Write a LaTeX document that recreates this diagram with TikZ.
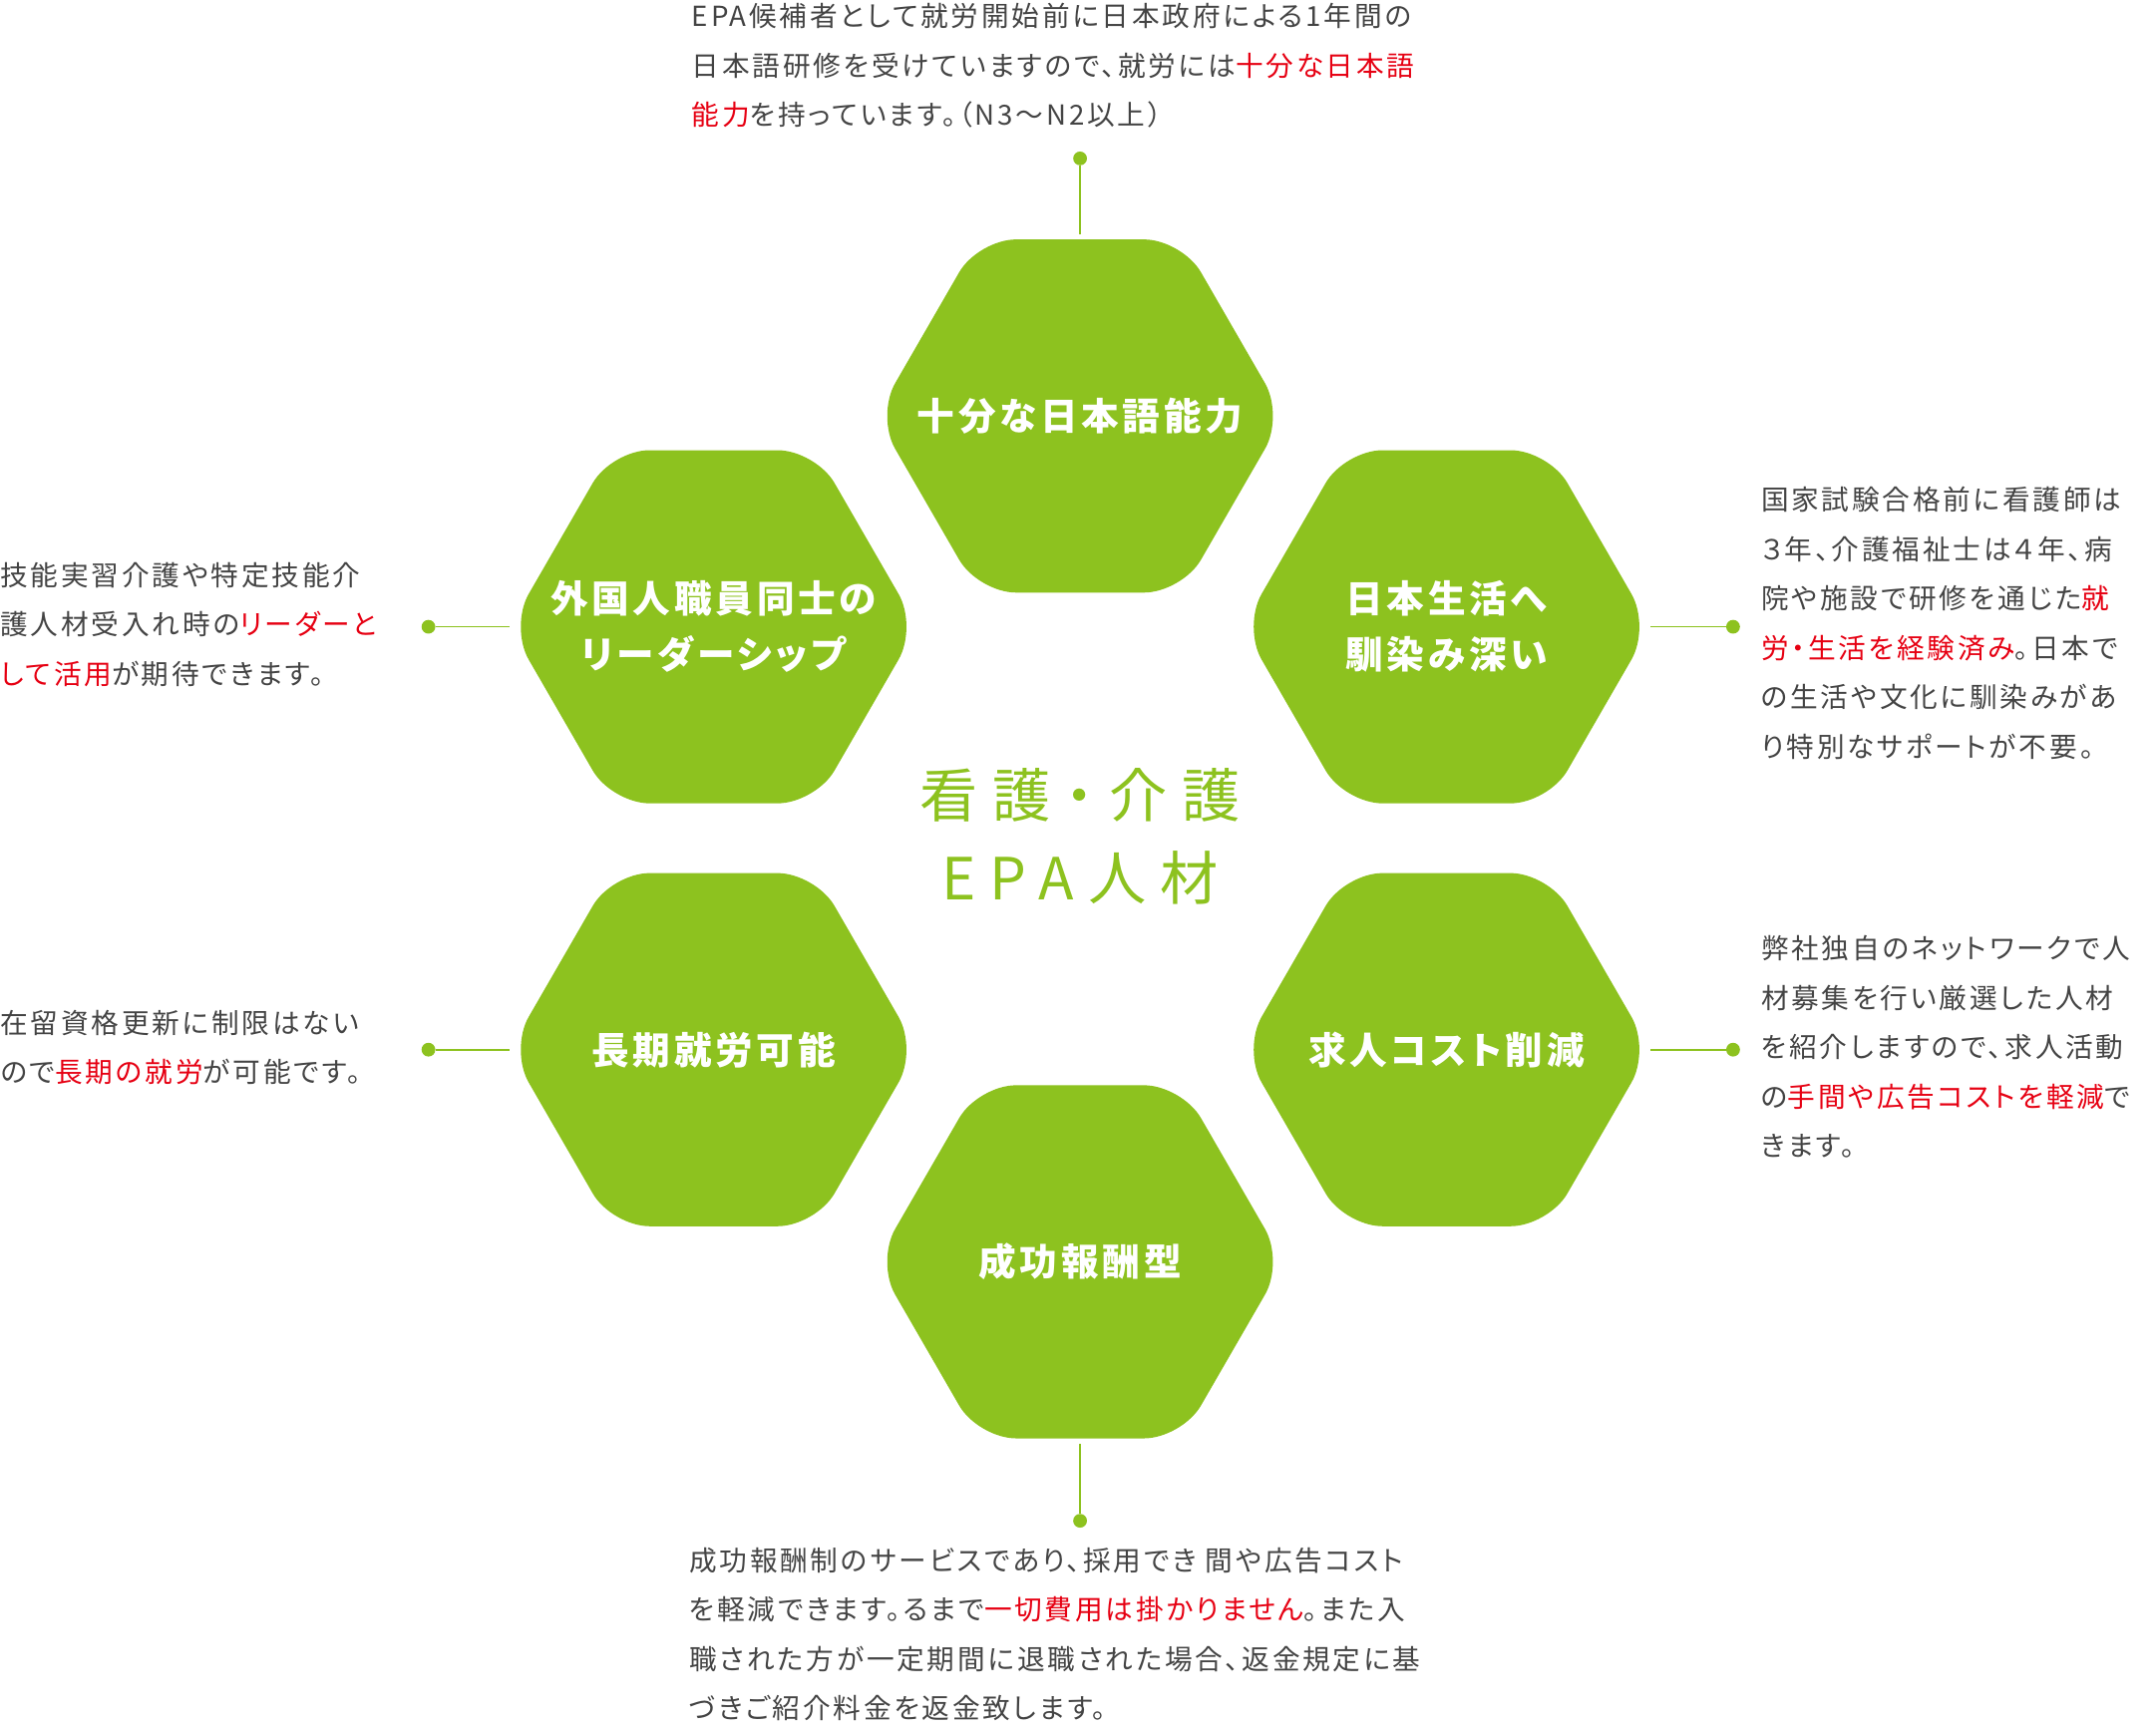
\documentclass[tikz,border=0pt]{standalone}
\usepackage{fontspec}
\setmainfont{Noto Sans CJK JP}[RawFeature=+palt, LetterSpace=10]
\definecolor{epagreen}{HTML}{8DC21F}
\definecolor{epared}{HTML}{E60012}
\definecolor{epagray}{HTML}{444444}
\newcommand{\hl}[1]{\textcolor{epared}{#1}}
% hexagon with a label: name, centre, text
\newcommand{\hexat}[3]{%
  \fill[epagreen, rounded corners=0.55cm] (#2) +(0:148) -- +(60:148) -- +(120:148)
    -- +(180:148) -- +(240:148) -- +(300:148) -- cycle;
  \node[hexlabel] (#1) at (#2) {#3};
  \coordinate (#1-n) at ($(#2)+(0,-132)$);
  \coordinate (#1-s) at ($(#2)+(0,132)$);
  \coordinate (#1-w) at ($(#2)+(-148,0)$);
  \coordinate (#1-e) at ($(#2)+(148,0)$);}
\usetikzlibrary{calc}
\tikzset{
  hexlabel/.style={text=white, align=center, font=\fontsize{15.5}{23}\selectfont\bfseries},
  note/.style={anchor=north west, inner sep=0pt, align=left, text=epagray,
    font=\fontsize{11.4}{20.4}\selectfont},
  link/.style={epagreen, line width=0.7pt},
  dot/.style={circle, fill=epagreen, inner sep=0pt, minimum size=0.2cm}
}
\begin{document}
\begin{tikzpicture}[x=0.02cm, y=-0.02cm]
  \useasboundingbox (0,0) rectangle (1565,1255);

  % Hexagons
  \hexat{lang}{784,302}{十分な日本語能力}
  \hexat{lead}{518,455}{外国人職員同士の\\リーダーシップ}
  \hexat{life}{1050,455}{日本生活へ\\馴染み深い}
  \hexat{long}{518,762}{長期就労可能}
  \hexat{cost}{1050,762}{求人コスト削減}
  \hexat{fee}{784,916}{成功報酬型}

  % Title
  \node[text=epagreen, align=center, font=\fontsize{24}{34}\selectfont\addfontfeature{LetterSpace=25}] (title) at (784,607)
    {看護・介護\\EPA人材};

  % Connectors
  \node[dot] (dlang) at (784,115) {};
  \node[dot] (dlead) at (311,455) {};
  \node[dot] (dlife) at (1258,455) {};
  \node[dot] (dlong) at (311,762) {};
  \node[dot] (dcost) at (1258,762) {};
  \node[dot] (dfee) at (784,1104) {};
  \draw[link] (dlang) -- (lang-n);
  \draw[link] (dlead) -- (lead-w);
  \draw[link] (life-e) -- (dlife);
  \draw[link] (dlong) -- (long-w);
  \draw[link] (cost-e) -- (dcost);
  \draw[link] (fee-s) -- (dfee);

  % Notes
  \node[note] (tlang) at (502,2) {EPA候補者として就労開始前に日本政府による1年間の\\
    日本語研修を受けていますので、就労には\hl{十分な日本語}\\
    \hl{能力}を持っています。（N3〜N2以上）};
  \node[note] (tlead) at (0,408) {技能実習介護や特定技能介\\
    護人材受入れ時の\hl{リーダーと}\\
    \hl{して活用}が期待できます。};
  \node[note] (tlife) at (1278,353) {国家試験合格前に看護師は\\
    ３年、介護福祉士は４年、病\\
    院や施設で研修を通じた\hl{就}\\
    \hl{労・生活を経験済み}。日本で\\
    の生活や文化に馴染みがあ\\
    り特別なサポートが不要。};
  \node[note] (tlong) at (0,733) {在留資格更新に制限はない\\
    ので\hl{長期の就労}が可能です。};
  \node[note] (tcost) at (1278,679) {弊社独自のネットワークで人\\
    材募集を行い厳選した人材\\
    を紹介しますので、求人活動\\
    の\hl{手間や広告コストを軽減}で\\
    きます。};
  \node[note] (tfee) at (500,1123) {成功報酬制のサービスであり、採用でき 間や広告コスト\\
    を軽減できます。るまで\hl{一切費用は掛かりません}。また入\\
    職された方が一定期間に退職された場合、返金規定に基\\
    づきご紹介料金を返金致します。};
\end{tikzpicture}
\end{document}
